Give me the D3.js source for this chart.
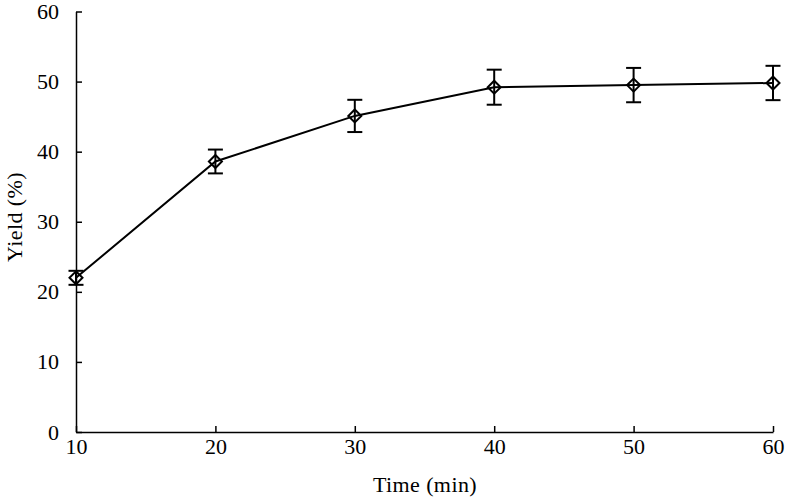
<!DOCTYPE html>
<html><head><meta charset="utf-8">
<script src="https://cdn.jsdelivr.net/npm/d3@7"></script>
<style>body{margin:0;background:#fff}svg{display:block}text{font-family:"Liberation Serif","Times New Roman",serif;fill:#000}</style>
</head><body><svg id="c" width="786" height="499"></svg>
<script>
const times = [10, 20, 30, 40, 50, 60];
const yieldVals = [22.0, 38.6, 45.1, 49.2, 49.5, 49.8];
const errors = [1.0, 1.7, 2.3, 2.5, 2.45, 2.45];
const xTicks = [10, 20, 30, 40, 50, 60];
const yTicks = [0, 10, 20, 30, 40, 50, 60];

const svg = d3.select("#c");
const x = d3.scaleLinear().domain([10, 60]).range([76, 773]);
const y = d3.scaleLinear().domain([0, 60]).range([432, 11.5]);

const xAxis = svg.append("g").attr("transform", `translate(0,${y(0)})`)
  .call(d3.axisBottom(x).tickValues(xTicks).tickSize(-6).tickPadding(6).tickSizeOuter(0));
const yAxis = svg.append("g").attr("transform", `translate(${x(10)},0)`)
  .call(d3.axisLeft(y).tickValues(yTicks).tickSize(-6).tickPadding(17).tickSizeOuter(0));
[xAxis, yAxis].forEach(a => {
  a.select(".domain").attr("stroke", "#000").attr("stroke-width", 1.5);
  a.selectAll(".tick line").attr("stroke", "#000").attr("stroke-width", 1.5);
  a.selectAll(".tick text").attr("font-size", 22).style("font-family", '"Liberation Serif",serif');
});
yAxis.selectAll(".tick text").attr("dy", "0.32em");
xAxis.selectAll(".tick text").attr("dy", "0.71em");

const data = times.map((t, i) => ({t, v: yieldVals[i], e: errors[i]}));

svg.append("path").datum(data)
  .attr("fill", "none").attr("stroke", "#000").attr("stroke-width", 2)
  .attr("d", d3.line().x(d => x(d.t)).y(d => y(d.v)));

const eb = svg.append("g").attr("stroke", "#000").attr("stroke-width", 2);
data.forEach(d => {
  const cx = x(d.t), t = y(d.v + d.e), b = y(d.v - d.e);
  eb.append("line").attr("x1", cx).attr("x2", cx).attr("y1", t).attr("y2", b);
  eb.append("line").attr("x1", cx - 7.5).attr("x2", cx + 7.5).attr("y1", t).attr("y2", t);
  eb.append("line").attr("x1", cx - 7.5).attr("x2", cx + 7.5).attr("y1", b).attr("y2", b);
});

svg.append("g").selectAll("path").data(data).join("path")
  .attr("transform", d => `translate(${x(d.t)},${y(d.v)})`)
  .attr("d", "M0,-6.5L6.5,0L0,6.5L-6.5,0Z")
  .attr("fill", "none").attr("stroke", "#000").attr("stroke-width", 2);

svg.append("text").attr("x", 425).attr("y", 492).attr("text-anchor", "middle")
  .attr("font-size", 22).attr("letter-spacing", 0.4).text("Time (min)");
svg.append("text").attr("transform", "translate(22,217) rotate(-90)").attr("text-anchor", "middle")
  .attr("font-size", 22).attr("letter-spacing", 0.4).text("Yield (%)");
</script></body></html>
